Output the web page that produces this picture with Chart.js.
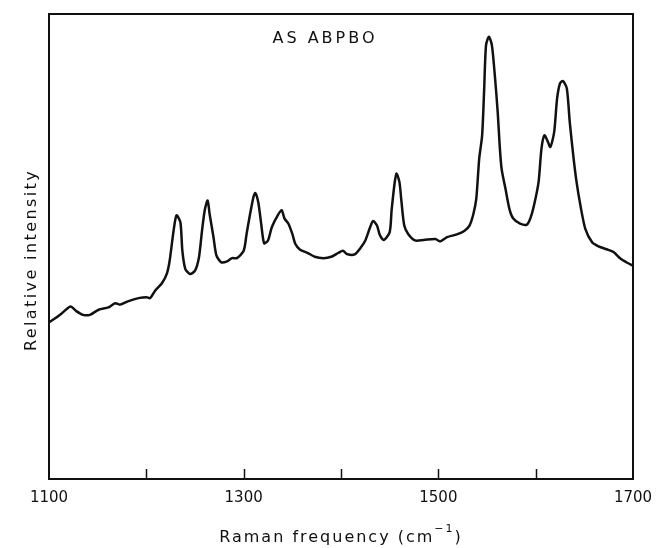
<!DOCTYPE html>
<html>
<head>
<meta charset="utf-8">
<script src="https://cdn.jsdelivr.net/npm/chart.js@4.4.1/dist/chart.umd.min.js"></script>
<style>
  html, body { margin: 0; padding: 0; background: #fff; }
  #wrap { width: 657px; height: 548px; }
</style>
</head>
<body>
<div id="wrap"><canvas id="chart"></canvas></div>
<script>
// Raman spectrum (intensity in arbitrary 0-100 units)
const frequencies = [
  1100, 1106, 1113, 1122, 1128, 1135, 1142, 1151, 1161, 1168, 1173, 1181, 1192, 1200, 1204,
  1209, 1216, 1221, 1224, 1228, 1231, 1235, 1237, 1240, 1245, 1250, 1254, 1257, 1260, 1263,
  1265, 1269, 1272, 1277, 1283, 1288, 1293, 1300, 1303, 1306, 1310, 1312, 1315, 1318, 1321,
  1325, 1329, 1335, 1339, 1342, 1346, 1350, 1353, 1358, 1366, 1373, 1382, 1390, 1397, 1402,
  1406, 1414, 1420, 1425, 1430, 1433, 1437, 1440, 1444, 1450, 1452, 1455, 1457, 1460, 1462,
  1465, 1469, 1476, 1485, 1497, 1502, 1509, 1519, 1527, 1532, 1536, 1539, 1542, 1545, 1547,
  1549, 1552, 1555, 1558, 1561, 1563, 1565, 1569, 1573, 1577, 1584, 1591, 1595, 1599, 1603,
  1606, 1609, 1612, 1615, 1619, 1622, 1625, 1628, 1632, 1635, 1639, 1642, 1646, 1651, 1658,
  1664, 1673, 1680, 1687, 1694, 1700
];
const intensities = [
  33.7, 34.5, 35.6, 37.1, 36.1, 35.3, 35.3, 36.4, 36.9, 37.8, 37.5, 38.2, 38.9, 39.1, 38.9,
  40.5, 42.1, 44.1, 47.0, 53.4, 56.7, 55.2, 49.1, 45.2, 44.1, 44.8, 47.6, 53.0, 57.8, 59.9,
  57.0, 52.0, 48.1, 46.6, 46.8, 47.5, 47.5, 49.1, 52.7, 56.3, 60.6, 61.5, 59.5, 54.9, 50.7,
  51.3, 54.2, 56.7, 57.8, 56.0, 54.9, 52.7, 50.6, 49.3, 48.6, 47.8, 47.5, 47.8, 48.6, 49.1,
  48.4, 48.3, 49.7, 51.3, 54.2, 55.5, 54.5, 52.4, 51.4, 53.1, 57.8, 63.5, 65.7, 63.9, 59.9,
  54.5, 52.7, 51.3, 51.4, 51.6, 51.1, 52.0, 52.6, 53.4, 54.5, 57.0, 60.3, 68.9, 73.9, 83.3,
  93.3, 95.1, 93.3, 86.9, 78.9, 71.8, 66.7, 62.4, 58.1, 56.0, 54.9, 54.7, 56.3, 59.5, 63.9,
  71.1, 73.9, 72.8, 71.4, 74.6, 81.8, 85.1, 85.6, 84.0, 76.8, 68.9, 63.9, 58.8, 53.8, 50.9,
  50.1, 49.4, 48.8, 47.4, 46.5, 45.9
];

// tick marks every 100, labels only on every other one
const tickMarks = [1200, 1300, 1400, 1500, 1600];
const tickLabels = [1100, 1300, 1500, 1700];

const sampleName = 'AS ABPBO';
const yTitle = 'Relative intensity';
const xTitleMain = 'Raman frequency (cm';
const xTitleSup = '\u22121';
const xTitleEnd = ')';

const ink = '#111';
const fontFamily = '"DejaVu Sans", sans-serif';

// frame, inner ticks and the free-standing texts
const decorations = {
  id: 'decorations',
  afterDraw(chart) {
    const ctx = chart.ctx;
    const area = chart.chartArea;
    const x = chart.scales.x;
    ctx.save();
    ctx.strokeStyle = ink;
    ctx.lineWidth = 2;
    ctx.strokeRect(area.left, area.top, area.right - area.left, area.bottom - area.top);

    ctx.lineWidth = 1.5;
    tickMarks.forEach(v => {
      const px = Math.round(x.getPixelForValue(v)) + 0.5;
      ctx.beginPath();
      ctx.moveTo(px, area.bottom);
      ctx.lineTo(px, area.bottom - 10);
      ctx.stroke();
    });

    ctx.fillStyle = ink;
    ctx.textBaseline = 'alphabetic';

    // sample label inside the frame
    ctx.textAlign = 'center';
    ctx.letterSpacing = '3px';
    ctx.font = '16px ' + fontFamily;
    ctx.fillText(sampleName, 325, 43);

    // x axis title with superscript
    ctx.textAlign = 'left';
    ctx.letterSpacing = '2px';
    ctx.font = '16px ' + fontFamily;
    const wMain = ctx.measureText(xTitleMain).width;
    const wEnd = ctx.measureText(xTitleEnd).width;
    ctx.font = '11px ' + fontFamily;
    const wSup = ctx.measureText(xTitleSup).width;
    const cx = (area.left + area.right) / 2;
    let tx = cx - (wMain + wSup + wEnd) / 2;
    ctx.font = '16px ' + fontFamily;
    ctx.fillText(xTitleMain, tx, 542);
    tx += wMain;
    ctx.font = '11px ' + fontFamily;
    ctx.fillText(xTitleSup, tx, 532);
    tx += wSup;
    ctx.font = '16px ' + fontFamily;
    ctx.fillText(xTitleEnd, tx, 542);

    // y axis title
    ctx.textAlign = 'center';
    ctx.letterSpacing = '2.4px';
    ctx.translate(36, 260);
    ctx.rotate(-Math.PI / 2);
    ctx.fillText(yTitle, 0, 0);
    ctx.restore();
  }
};

new Chart(document.getElementById('chart'), {
  type: 'line',
  data: {
    datasets: [{
      data: frequencies.map((f, i) => ({ x: f, y: intensities[i] })),
      borderColor: ink,
      borderWidth: 2.5,
      pointRadius: 0,
      tension: 0.25,
      fill: false
    }]
  },
  options: {
    responsive: true,
    maintainAspectRatio: false,
    animation: false,
    layout: { padding: { left: 49, right: 24, top: 14, bottom: 31 } },
    plugins: {
      legend: { display: false },
      tooltip: { enabled: false }
    },
    scales: {
      x: {
        type: 'linear',
        min: 1100,
        max: 1700,
        afterFit: scale => { scale.paddingLeft = 0; scale.paddingRight = 0; },
        grid: { display: false, drawTicks: false },
        border: { display: false },
        ticks: {
          stepSize: 100,
          autoSkip: false,
          maxRotation: 0,
          padding: 10,
          color: ink,
          font: { family: fontFamily, size: 15 },
          callback: v => tickLabels.includes(v) ? String(v) : ''
        },
        title: { display: false }
      },
      y: {
        display: false,
        min: 0,
        max: 100
      }
    }
  },
  plugins: [decorations]
});
</script>
</body>
</html>
